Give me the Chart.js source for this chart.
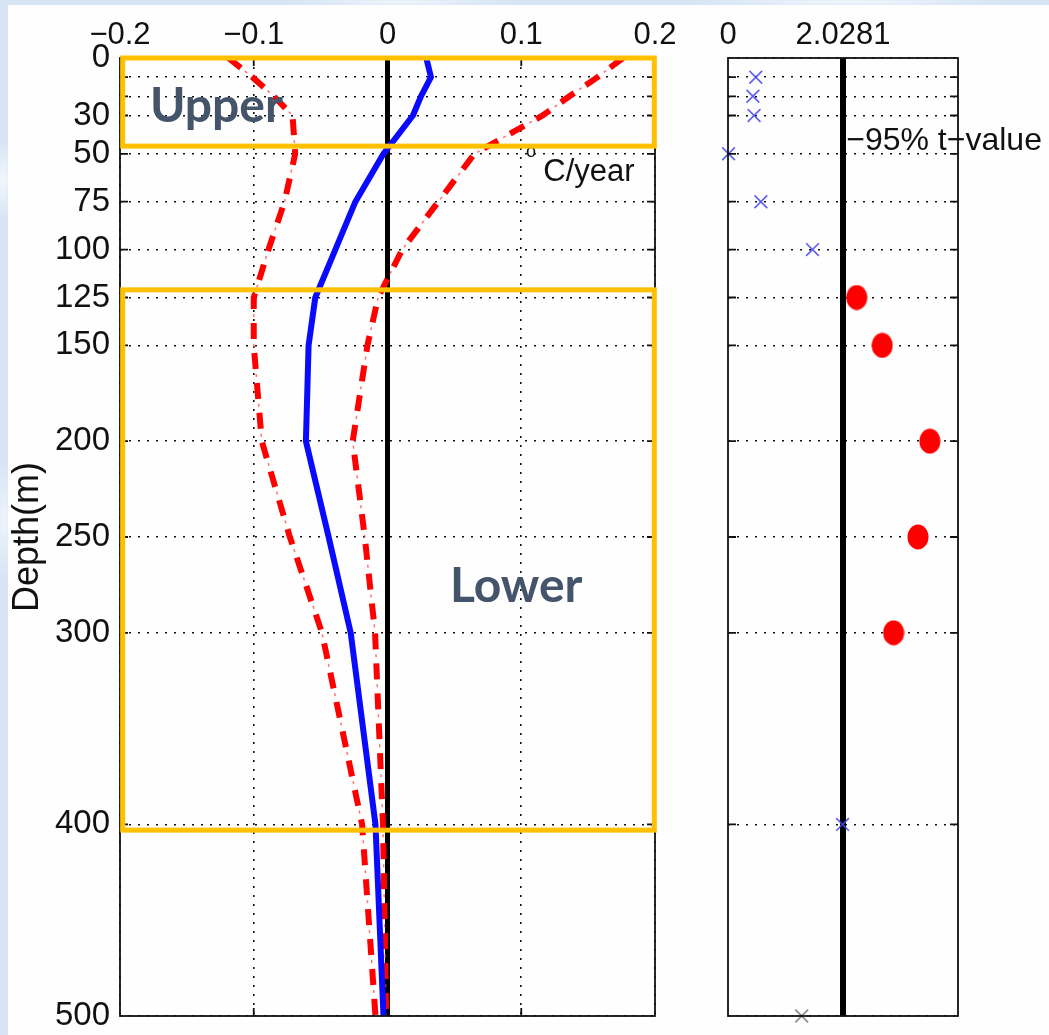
<!DOCTYPE html>
<html>
<head>
<meta charset="utf-8">
<title>Temperature trend profile</title>
<script src="https://cdn.jsdelivr.net/npm/chart.js@4.4.1/dist/chart.umd.min.js"></script>
<style>
  html, body { margin: 0; padding: 0; }
  body {
    width: 1049px; height: 1035px; overflow: hidden; position: relative;
    background:
      radial-gradient(ellipse 14px 40px at 3px 180px, #f3f7fc 0, rgba(243,247,252,0) 100%),
      radial-gradient(ellipse 14px 60px at 4px 520px, #eef4fb 0, rgba(238,244,251,0) 100%),
      radial-gradient(ellipse 120px 6px at 400px 2px, #eef4fb 0, rgba(238,244,251,0) 100%),
      radial-gradient(ellipse 160px 6px at 850px 2px, #f1f6fc 0, rgba(241,246,252,0) 100%),
      #d6e4f4;
  }
  #sheet { position: absolute; left: 8px; top: 5px; right: 0; bottom: 0; background: #fefefe; }
  #profile { position: absolute; left: 0; top: 0; }
  #tstat { position: absolute; left: 680px; top: 0; }
</style>
</head>
<body>
<div id="sheet"></div>
<canvas id="profile" width="700" height="1035"></canvas>
<canvas id="tstat" width="369" height="1035"></canvas>
<script>
// Depth levels (m)
const depths = [0, 10, 20, 30, 50, 75, 100, 125, 150, 200, 250, 300, 400, 500];
// Temperature trend (°C/year) at each depth, with its lower and upper confidence bounds
const trend      = [0.029, 0.0325, 0.025, 0.019, -0.003, -0.024, -0.039, -0.054, -0.059, -0.061, -0.044, -0.0275, -0.009, -0.003];
const lowerBound = [-0.119, -0.101, -0.085, -0.071, -0.069, -0.077, -0.089, -0.100, -0.100, -0.094, -0.073, -0.049, -0.019, -0.009];
const upperBound = [0.176, 0.157, 0.136, 0.116, 0.065, 0.038, 0.011, -0.007, -0.015, -0.026, -0.017, -0.0093, -0.0034, -0.001];

// t statistic of the trend: not significant, significant, and the deepest level
const tDepthsNS  = [10, 20, 30, 50, 75, 100, 400];
const tValuesNS  = [0.49, 0.44, 0.46, 0.01, 0.58, 1.49, 2.02];
const tDepthsSig = [125, 150, 200, 250, 300];
const tValuesSig = [2.27, 2.72, 3.56, 3.35, 2.92];
const tDepthsDeep = [500];
const tValuesDeep = [1.30];
const tCritical = 2.0281;   // 95% critical t-value
const tAxisMax = 4.0562;

// Axis ticks and their labels
const trendTicks = [-0.2, -0.1, 0, 0.1, 0.2];
const trendTickLabels = ['\u22120.2', '\u22120.1', '0', '0.1', '0.2'];
const depthTicks = [0, 10, 20, 30, 50, 75, 100, 125, 150, 200, 250, 300, 400, 500];
const depthTickLabels = ['0', '', '', '30', '50', '75', '100', '125', '150', '200', '250', '300', '400', '500'];
const tTicks = [0, tCritical];
const tTickLabels = ['0', '2.0281'];

// Highlighted layers (depth ranges in m)
const layerNames = ['Upper', 'Lower'];
const layerTops = [0, 121];
const layerBottoms = [46, 403];

const TICK_FONT = "'Liberation Sans', Arial, sans-serif";

const pairs = (xs, ys) => xs.map((v, i) => ({ x: v, y: ys[i] }));
const labelFor = (vals, labels) => v => {
  const i = vals.findIndex(t => Math.abs(t - v) < 1e-9);
  return i < 0 ? '' : labels[i];
};

// Slightly tall red disc used for significant t values
const discMarker = (() => {
  const c = document.createElement('canvas');
  c.width = 22; c.height = 26;
  const g = c.getContext('2d');
  g.fillStyle = '#ff0000';
  g.beginPath();
  g.ellipse(11, 13, 10.5, 12.5, 0, 0, Math.PI * 2);
  g.fill();
  return c;
})();

function drawFrameAndTicks(chart, xVals, yVals) {
  const { ctx, chartArea: a, scales: { x, y } } = chart;
  const len = 8;
  ctx.save();
  ctx.setLineDash([]);
  ctx.strokeStyle = '#111';
  ctx.lineWidth = 1.8;
  ctx.beginPath();
  yVals.forEach(v => {
    if (v <= y.min || v >= y.max) return;
    const p = y.getPixelForValue(v);
    ctx.moveTo(a.left, p); ctx.lineTo(a.left + len, p);
    ctx.moveTo(a.right, p); ctx.lineTo(a.right - len, p);
  });
  xVals.forEach(v => {
    if (v <= x.min || v >= x.max) return;
    const p = x.getPixelForValue(v);
    ctx.moveTo(p, a.top); ctx.lineTo(p, a.top + len);
    ctx.moveTo(p, a.bottom); ctx.lineTo(p, a.bottom - len);
  });
  ctx.stroke();
  ctx.strokeRect(a.left, a.top, a.right - a.left, a.bottom - a.top);
  ctx.restore();
}

const profileDecor = {
  id: 'profileDecor',
  afterDatasetsDraw(chart) {
    drawFrameAndTicks(chart, [-0.1, 0.1], depthTicks);
  },
  afterDraw(chart) {
    const { ctx, scales: { x, y } } = chart;
    ctx.save();
    // units label
    ctx.fillStyle = '#111';
    ctx.textBaseline = 'alphabetic';
    ctx.font = "31px " + TICK_FONT;
    ctx.fillText('C/year', x.getPixelForValue(0.1165), y.getPixelForValue(64.2));
    ctx.font = "18px " + TICK_FONT;
    ctx.fillText('o', x.getPixelForValue(0.1035), y.getPixelForValue(51.5));
    // highlighted layers
    ctx.strokeStyle = '#FFC000';
    ctx.lineWidth = 5;
    const l = x.getPixelForValue(-0.198), r = x.getPixelForValue(0.1995);
    layerNames.forEach((name, i) => {
      const t = y.getPixelForValue(layerTops[i]);
      const b = y.getPixelForValue(layerBottoms[i]);
      ctx.strokeRect(l, t, r - l, b - t);
    });
    ctx.fillStyle = '#44546A';
    ctx.font = "bold 48px Lato, 'Open Sans', sans-serif";
    ctx.fillText(layerNames[0], x.getPixelForValue(-0.1776), y.getPixelForValue(33.4));
    ctx.fillText(layerNames[1], x.getPixelForValue(0.0467), y.getPixelForValue(284));
    ctx.restore();
  }
};

const tstatDecor = {
  id: 'tstatDecor',
  afterDatasetsDraw(chart) {
    drawFrameAndTicks(chart, [], depthTicks);
  },
  afterDraw(chart) {
    const { ctx, scales: { x, y } } = chart;
    ctx.save();
    ctx.fillStyle = '#111';
    ctx.font = "32px " + TICK_FONT;
    ctx.textBaseline = 'alphabetic';
    ctx.fillText('\u221295% t\u2212value', x.getPixelForValue(2.085), y.getPixelForValue(48.2));
    ctx.restore();
  }
};

const depthAxis = (showLabels) => ({
  type: 'linear',
  position: 'left',
  reverse: true,
  min: 0,
  max: 500,
  afterBuildTicks: s => { s.ticks = depthTicks.map(v => ({ value: v })); },
  afterFit: s => {
    s.width = showLabels ? 120 : 48;
    s.paddingTop = 0;
    s.paddingBottom = 0;
  },
  ticks: {
    display: showLabels,
    autoSkip: false,
    padding: 10,
    color: '#111',
    font: { family: TICK_FONT, size: 33, lineHeight: 1 },
    callback: labelFor(depthTicks, depthTickLabels)
  },
  grid: { drawTicks: false, color: '#111', lineWidth: 1.6 },
  border: { display: false, dash: [2, 7] },
  title: {
    display: showLabels,
    text: 'Depth(m)',
    color: '#111',
    font: { family: TICK_FONT, size: 36 },
    padding: { top: 6, bottom: 0 }
  }
});

Chart.defaults.animation = false;

new Chart(document.getElementById('profile'), {
  type: 'scatter',
  data: {
    datasets: [
      { data: pairs(trend, depths), showLine: true, borderColor: '#0a0aff', borderWidth: 6,
        borderJoinStyle: 'round', pointRadius: 0, tension: 0 },
      { data: pairs(lowerBound, depths), showLine: true, borderColor: 'rgba(255,70,70,0.75)', borderWidth: 1.5,
        borderDash: [3, 27], borderDashOffset: 9, pointRadius: 0, tension: 0 },
      { data: pairs(upperBound, depths), showLine: true, borderColor: 'rgba(255,70,70,0.75)', borderWidth: 1.5,
        borderDash: [3, 27], borderDashOffset: 9, pointRadius: 0, tension: 0 },
      { data: pairs(lowerBound, depths), showLine: true, borderColor: '#ff0000', borderWidth: 6,
        borderDash: [16, 14], borderCapStyle: 'butt', pointRadius: 0, tension: 0 },
      { data: pairs(upperBound, depths), showLine: true, borderColor: '#ff0000', borderWidth: 6,
        borderDash: [16, 14], borderCapStyle: 'butt', pointRadius: 0, tension: 0 },
      { data: [{ x: 0, y: 0 }, { x: 0, y: 500 }], showLine: true, borderColor: '#000', borderWidth: 5,
        pointRadius: 0 }
    ]
  },
  options: {
    responsive: false,
    devicePixelRatio: 1,
    layout: { padding: { left: 0, right: 45, top: 0, bottom: 19 } },
    plugins: { legend: { display: false }, tooltip: { enabled: false } },
    events: [],
    scales: {
      x: {
        type: 'linear',
        position: 'top',
        min: -0.2,
        max: 0.2,
        afterBuildTicks: s => { s.ticks = trendTicks.map(v => ({ value: v })); },
        afterFit: s => { s.height = 58; },
        ticks: {
          autoSkip: false, maxRotation: 0, minRotation: 0, padding: 4, color: '#111',
          font: { family: TICK_FONT, size: 31 },
          callback: labelFor(trendTicks, trendTickLabels)
        },
        grid: { drawTicks: false, color: '#111', lineWidth: 1.6 },
        border: { display: false, dash: [2, 7] }
      },
      y: depthAxis(true)
    }
  },
  plugins: [profileDecor]
});

new Chart(document.getElementById('tstat'), {
  type: 'scatter',
  data: {
    datasets: [
      { data: pairs(tValuesSig, tDepthsSig), pointStyle: discMarker, pointRadius: 12, clip: false },
      { data: pairs(tValuesNS, tDepthsNS), pointStyle: 'crossRot', pointRadius: 9,
        pointBorderWidth: 1.7, borderColor: 'rgba(70,70,240,0.85)', backgroundColor: 'rgba(70,70,240,0.85)', clip: false },
      { data: pairs(tValuesDeep, tDepthsDeep), pointStyle: 'crossRot', pointRadius: 9,
        pointBorderWidth: 1.7, borderColor: 'rgba(120,120,120,0.85)', backgroundColor: 'rgba(120,120,120,0.85)', clip: false },
      { data: [{ x: tCritical, y: 0 }, { x: tCritical, y: 500 }], showLine: true, borderColor: '#000',
        borderWidth: 6, pointRadius: 0 }
    ]
  },
  options: {
    responsive: false,
    devicePixelRatio: 1,
    layout: { padding: { left: 0, right: 91, top: 0, bottom: 19 } },
    plugins: { legend: { display: false }, tooltip: { enabled: false } },
    events: [],
    scales: {
      x: {
        type: 'linear',
        position: 'top',
        min: 0,
        max: tAxisMax,
        afterBuildTicks: s => { s.ticks = tTicks.map(v => ({ value: v })); },
        afterFit: s => { s.height = 58; },
        ticks: {
          autoSkip: false, maxRotation: 0, minRotation: 0, padding: 4, color: '#111',
          font: { family: TICK_FONT, size: 31 },
          callback: labelFor(tTicks, tTickLabels)
        },
        grid: { display: false, drawTicks: false },
        border: { display: false }
      },
      y: depthAxis(false)
    }
  },
  plugins: [tstatDecor]
});
</script>
</body>
</html>
